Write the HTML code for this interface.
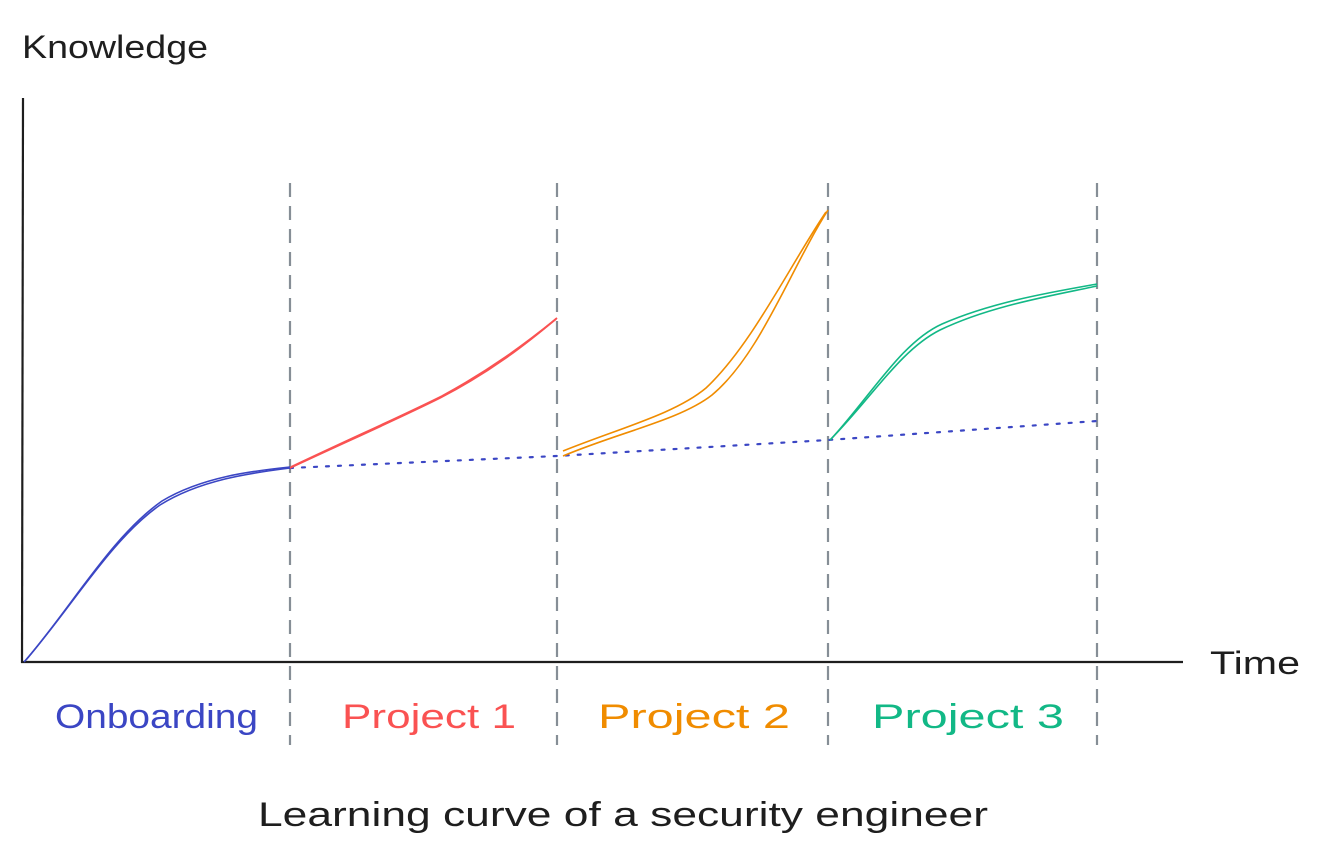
<!DOCTYPE html>
<html><head><meta charset="utf-8"><style>html,body{margin:0;padding:0;background:#fff}svg{display:block}</style></head>
<body>
<svg width="1320" height="859" viewBox="0 0 1320 859" xmlns="http://www.w3.org/2000/svg" font-family="'Liberation Sans', sans-serif">
<rect width="1320" height="859" fill="#fff"/>
<!-- axes -->
<path d="M23 98 L22 663" stroke="#1e1e1e" stroke-width="2.2" fill="none"/>
<path d="M21 662 L1183 662" stroke="#1e1e1e" stroke-width="2.2" fill="none"/>
<!-- dashed separators -->
<g stroke="#868e96" stroke-width="2.2" stroke-dasharray="14 9" fill="none">
<path d="M290 183 L290 745"/>
<path d="M557 183 L557 745"/>
<path d="M828 183 L828 745"/>
<path d="M1097 183 L1097 745"/>
</g>
<!-- dotted baseline -->
<path d="M290 468 L557 456 L828 440 L1097 421" stroke="#3b46c4" stroke-width="2.2" stroke-dasharray="3 9" stroke-linecap="round" fill="none"/>
<!-- blue onboarding -->
<g stroke="#3b46c4" stroke-width="1.6" fill="none">
<path d="M24 662 C70 610 110 540 160 505 C200 480 250 473 290 468"/>
<path d="M26 660 C72 606 112 536 162 501 C202 477 252 471 290 467"/>
</g>
<!-- red project 1 -->
<g stroke="#fa5252" stroke-width="1.8" fill="none">
<path d="M290 468 C350 440 400 418 440 398 C490 372 525 345 557 318"/>
<path d="M291 467 C352 438 402 416 442 396 C490 370 525 344 556 319"/>
</g>
<!-- orange project 2 -->
<g stroke="#f08c00" stroke-width="1.6" fill="none">
<path d="M563 456 C620 432 680 420 712 395 C760 355 790 270 828 210"/>
<path d="M563 451 C620 428 675 414 706 388 C752 345 790 265 826 212"/>
</g>
<!-- green project 3 -->
<g stroke="#12b886" stroke-width="1.6" fill="none">
<path d="M830 440 C870 400 900 350 940 330 C990 306 1050 296 1097 286"/>
<path d="M832 438 C872 394 902 342 942 324 C992 302 1052 292 1097 284"/>
</g>
<!-- labels -->
<text x="22" y="58" font-size="32" fill="#1e1e1e" textLength="186" lengthAdjust="spacingAndGlyphs">Knowledge</text>
<text x="1210" y="674" font-size="32" fill="#1e1e1e" textLength="90" lengthAdjust="spacingAndGlyphs">Time</text>
<text x="55" y="728" font-size="34" fill="#3b46c4" textLength="203" lengthAdjust="spacingAndGlyphs">Onboarding</text>
<text x="342" y="728" font-size="34" fill="#fa5252" textLength="174" lengthAdjust="spacingAndGlyphs">Project 1</text>
<text x="598" y="728" font-size="34" fill="#f08c00" textLength="192" lengthAdjust="spacingAndGlyphs">Project 2</text>
<text x="872" y="728" font-size="34" fill="#12b886" textLength="192" lengthAdjust="spacingAndGlyphs">Project 3</text>
<text x="258" y="826" font-size="34" fill="#1e1e1e" textLength="730" lengthAdjust="spacingAndGlyphs">Learning curve of a security engineer</text>
</svg>
</body></html>
